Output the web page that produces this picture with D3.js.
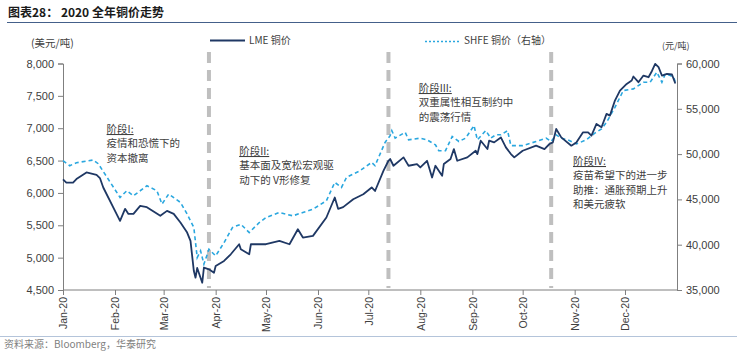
<!DOCTYPE html>
<html lang="zh">
<head>
<meta charset="UTF-8">
<title>2020 全年铜价走势</title>
<script src="https://d3js.org/d3.v7.min.js"></script>
<style>
  body { margin: 0; background: #fff; }
  svg { display: block; }
  .cjk { font-family: "Noto Sans CJK SC", sans-serif; }
  .num { font-family: "Liberation Sans", Arial, sans-serif; }
</style>
</head>
<body>
<div id="chart"></div>
<script>
// LME copper (USD/t), left axis
const lmeDates = ["2020-01-01","2020-01-03","2020-01-07","2020-01-09","2020-01-15","2020-01-21","2020-01-23","2020-01-25",
  "2020-02-04","2020-02-07","2020-02-09","2020-02-12","2020-02-16","2020-02-20","2020-02-28","2020-03-03","2020-03-07",
  "2020-03-11","2020-03-15","2020-03-17","2020-03-19","2020-03-20","2020-03-21","2020-03-24","2020-03-25","2020-03-28",
  "2020-03-31","2020-04-01","2020-04-06","2020-04-10","2020-04-15","2020-04-16","2020-04-21","2020-04-22","2020-05-01",
  "2020-05-09","2020-05-15","2020-05-20","2020-05-23","2020-05-29","2020-06-06","2020-06-11","2020-06-13","2020-06-16",
  "2020-06-22","2020-06-28","2020-07-03","2020-07-05","2020-07-10","2020-07-13","2020-07-14","2020-07-16","2020-07-22",
  "2020-07-25","2020-07-30","2020-08-01","2020-08-05","2020-08-08","2020-08-10","2020-08-14","2020-08-15","2020-08-19",
  "2020-08-21","2020-08-23","2020-08-29","2020-09-03","2020-09-04","2020-09-06","2020-09-10","2020-09-11","2020-09-14",
  "2020-09-18","2020-09-21","2020-09-24","2020-09-26","2020-10-01","2020-10-09","2020-10-14","2020-10-17","2020-10-19",
  "2020-10-21","2020-10-24","2020-10-30","2020-11-02","2020-11-06","2020-11-09","2020-11-11","2020-11-14","2020-11-17",
  "2020-11-20","2020-11-22","2020-11-25","2020-11-28","2020-12-02","2020-12-05","2020-12-06","2020-12-09","2020-12-12",
  "2020-12-15","2020-12-17","2020-12-19","2020-12-21","2020-12-23","2020-12-26","2020-12-29","2020-12-30","2020-12-31"];
const lmeCu = [6210,6160,6160,6214,6316,6280,6230,6084,
  5568,5754,5676,5676,5800,5780,5646,5723,5676,
  5542,5387,5258,4793,4690,4840,4612,4845,4820,
  4767,4870,4949,5052,5207,5130,5052,5207,5207,
  5258,5207,5439,5310,5336,5620,5929,5754,5780,
  5903,5980,6084,6030,6342,6497,6524,6420,6549,
  6420,6446,6394,6497,6239,6420,6265,6446,6524,
  6678,6497,6549,6652,6600,6807,6678,6807,6781,
  6858,6704,6601,6549,6652,6730,6678,6756,6781,
  6988,6858,6730,6781,6936,6936,6884,7066,7014,
  7221,7195,7427,7582,7685,7737,7799,7711,7814,
  7788,7881,7995,7943,7814,7840,7830,7760,7690];

// SHFE copper (CNY/t), right axis
const shfeDates = ["2020-01-01","2020-01-05","2020-01-09","2020-01-19","2020-01-22","2020-02-04","2020-02-08","2020-02-12",
  "2020-02-20","2020-02-26","2020-02-29","2020-03-04","2020-03-11","2020-03-15","2020-03-19","2020-03-21","2020-03-23",
  "2020-03-25","2020-03-28","2020-04-01","2020-04-06","2020-04-11","2020-04-16","2020-04-21","2020-04-27","2020-05-01",
  "2020-05-09","2020-05-17","2020-05-23","2020-05-29","2020-06-06","2020-06-11","2020-06-15","2020-06-18","2020-06-26",
  "2020-07-03","2020-07-05","2020-07-11","2020-07-14","2020-07-15","2020-07-17","2020-07-23","2020-07-25","2020-08-01",
  "2020-08-05","2020-08-10","2020-08-12","2020-08-16","2020-08-20","2020-08-24","2020-08-28","2020-09-02","2020-09-04",
  "2020-09-09","2020-09-12","2020-09-15","2020-09-18","2020-09-22","2020-09-24","2020-10-01","2020-10-09","2020-10-15",
  "2020-10-18","2020-10-21","2020-10-24","2020-10-28","2020-11-02","2020-11-08","2020-11-13","2020-11-17","2020-11-20",
  "2020-11-25","2020-11-30","2020-12-06","2020-12-09","2020-12-12","2020-12-16","2020-12-20","2020-12-23","2020-12-25",
  "2020-12-28","2020-12-30","2020-12-31"];
const shfeCu = [49272,48719,49050,49345,48940,45213,45954,45400,
  46507,45954,44483,45590,44670,43377,41895,38577,39330,
  37846,39500,38764,40236,41895,42264,41342,42448,43000,
  43557,43188,43557,43926,44846,46875,46322,47428,48166,
  49087,48719,51300,52037,52590,51760,52406,51576,51760,
  51576,51023,50378,50378,51944,51392,51760,53143,51576,
  52590,51760,52128,52128,52590,50931,50931,51392,51760,
  51392,52128,51760,51576,51116,51576,52313,52775,53512,
  55167,57014,57198,57567,57936,57936,59038,57936,58853,
  58669,58485,57936];

const leftTicks = [4500,5000,5500,6000,6500,7000,7500,8000];
const rightTicks = [35000,40000,45000,50000,55000,60000];
const monthTicks = ["2020-01-01","2020-02-01","2020-03-01","2020-04-01","2020-05-01","2020-06-01",
  "2020-07-01","2020-08-01","2020-09-01","2020-10-01","2020-11-01","2020-12-01"];
const phaseDates = ["2020-03-28","2020-07-13","2020-10-18"];

const phaseNotes = [
  {date: "2020-01-27", top: 133, lines: ["阶段I:", "疫情和恐慌下的", "资本撤离"]},
  {date: "2020-04-15", top: 155, lines: ["阶段II:", "基本面及宽松宏观驱", "动下的 V形修复"]},
  {date: "2020-07-31", top: 92, lines: ["阶段III:", "双重属性相互制约中", "的震荡行情"]},
  {date: "2020-10-31", top: 165, lines: ["阶段IV:", "疫苗希望下的进一步", "助推：通胀预期上升", "和美元疲软"]}
];

const W = 737, H = 351;
const plot = {left: 63, right: 677, top: 63.5, bottom: 290};
const navy = "#1f3864", sky = "#2aa7df", textCol = "#404040", axisCol = "#7f7f7f";
const parse = d3.timeParse("%Y-%m-%d");

const svg = d3.select("#chart").append("svg").attr("width", W).attr("height", H);

const x = d3.scaleTime()
  .domain([new Date(2020, 0, 1), new Date(2021, 0, 1)])
  .range([plot.left, plot.right]);
const yL = d3.scaleLinear().domain([4500, 8000]).range([plot.bottom, plot.top]);
const yR = d3.scaleLinear().domain([35000, 60000]).range([plot.bottom, plot.top]);

// title + rules
svg.append("text").attr("class", "cjk").attr("x", 8).attr("y", 17)
  .attr("font-size", 12).attr("font-weight", "bold").attr("fill", "#1a1a1a")
  .text("图表28： 2020 全年铜价走势");
svg.append("line").attr("x1", 7).attr("x2", W).attr("y1", 22.5).attr("y2", 22.5)
  .attr("stroke", "#44608a").attr("stroke-width", 1);
svg.append("line").attr("x1", 0).attr("x2", W).attr("y1", 336.5).attr("y2", 336.5)
  .attr("stroke", "#b4c4da").attr("stroke-width", 1);
svg.append("text").attr("class", "cjk").attr("x", 4).attr("y", 348)
  .attr("font-size", 10).attr("fill", "#7f7f7f")
  .text("资料来源：Bloomberg，华泰研究");

// units
svg.append("text").attr("class", "cjk").attr("x", 31).attr("y", 47)
  .attr("font-size", 10.5).attr("fill", textCol).text("(美元/吨)");
svg.append("text").attr("class", "cjk").attr("x", 662).attr("y", 49)
  .attr("font-size", 9).attr("fill", textCol).text("(元/吨)");

// axes
const fmt = d3.format(",");
const gL = svg.append("g").attr("transform", `translate(${plot.left},0)`)
  .call(d3.axisLeft(yL).tickValues(leftTicks).tickFormat(fmt).tickSize(5).tickPadding(4));
const gR = svg.append("g").attr("transform", `translate(${plot.right},0)`)
  .call(d3.axisRight(yR).tickValues(rightTicks).tickFormat(fmt).tickSize(5).tickPadding(4));
const gB = svg.append("g").attr("transform", `translate(0,${plot.bottom})`)
  .call(d3.axisBottom(x).tickValues(monthTicks.map(parse)).tickFormat(d3.timeFormat("%b-%y")).tickSize(5));
gB.selectAll("text")
  .attr("transform", "rotate(-90)")
  .attr("text-anchor", "end")
  .attr("x", -7).attr("y", 0).attr("dy", "0.35em");

[gL, gR, gB].forEach(g => {
  g.select(".domain").attr("stroke", axisCol);
  g.selectAll(".tick line").attr("stroke", axisCol);
  g.selectAll("text").attr("class", "num").attr("font-size", 11).attr("fill", textCol);
});
gB.selectAll("text").attr("font-size", 10.5);
gB.select(".domain").attr("d", `M${plot.left},0H${plot.right}`);

// phase dividers
svg.append("g").selectAll("line").data(phaseDates).join("line")
  .attr("x1", d => x(parse(d))).attr("x2", d => x(parse(d)))
  .attr("y1", 52).attr("y2", plot.bottom - 2)
  .attr("stroke", "#bfbfbf").attr("stroke-width", 4)
  .attr("stroke-dasharray", "11,7");

// series
const lme = lmeDates.map((d, i) => ({date: parse(d), v: lmeCu[i]}));
const shfe = shfeDates.map((d, i) => ({date: parse(d), v: shfeCu[i]}));

svg.append("path").datum(shfe)
  .attr("fill", "none").attr("stroke", sky).attr("stroke-width", 1.6)
  .attr("stroke-dasharray", "4,3")
  .attr("d", d3.line().x(d => x(d.date)).y(d => yR(d.v)));

svg.append("path").datum(lme)
  .attr("fill", "none").attr("stroke", navy).attr("stroke-width", 1.8)
  .attr("stroke-linejoin", "round")
  .attr("d", d3.line().x(d => x(d.date)).y(d => yL(d.v)));

// legend
const lg = svg.append("g").attr("class", "cjk").attr("font-size", 10).attr("fill", textCol);
lg.append("line").attr("x1", 210).attr("x2", 245).attr("y1", 40.5).attr("y2", 40.5)
  .attr("stroke", navy).attr("stroke-width", 2);
lg.append("text").attr("x", 249).attr("y", 44).text("LME 铜价");
lg.append("line").attr("x1", 425).attr("x2", 461).attr("y1", 41.5).attr("y2", 41.5)
  .attr("stroke", sky).attr("stroke-width", 1.3).attr("stroke-dasharray", "2,2");
lg.append("text").attr("x", 464).attr("y", 44).text("SHFE 铜价（右轴）");

// phase annotations
phaseNotes.forEach(n => {
  const t = svg.append("text").attr("class", "cjk")
    .attr("x", x(parse(n.date))).attr("y", n.top)
    .attr("font-size", 10.5).attr("fill", textCol);
  n.lines.forEach((s, i) => {
    t.append("tspan").attr("x", x(parse(n.date))).attr("dy", i === 0 ? 0 : 14.3)
      .attr("text-decoration", i === 0 ? "underline" : null)
      .text(s);
  });
});
</script>
</body>
</html>
